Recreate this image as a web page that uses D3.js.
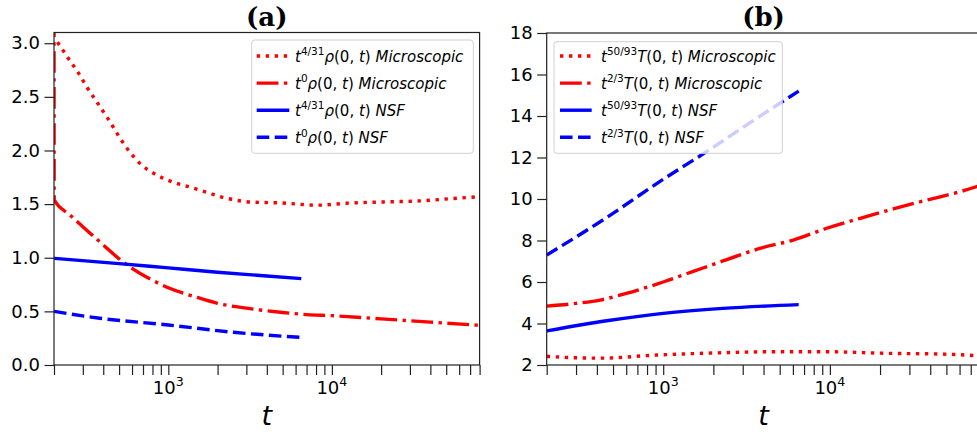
<!DOCTYPE html>
<html>
<head>
<meta charset="utf-8">
<script src="https://cdn.jsdelivr.net/npm/d3@7"></script>
<style>
  body { margin: 0; background: #fff; }
  svg { display: block; }
  text { white-space: pre; }
</style>
</head>
<body>
<svg id="fig" width="977" height="436"></svg>
<script>
// ---------- panel (a): density at the origin ----------
const rhoScaledMicroT = [210, 242, 280, 321, 370, 426, 490, 565, 670, 829, 1044, 1349, 1715, 2197, 3160, 5030, 8080, 12900, 20600, 34700, 52600, 80000];
const rhoScaledMicro  = [3.01, 2.87, 2.73, 2.58, 2.44, 2.30, 2.15, 2.01, 1.88, 1.78, 1.71, 1.66, 1.61, 1.56, 1.52, 1.51, 1.49, 1.51, 1.52, 1.53, 1.55, 1.57];

const rhoMicroT = [200, 200.5, 250, 300, 400, 500, 600, 800, 1000, 1500, 2000, 3000, 5000, 7000, 10000, 20000, 40000, 80000];
const rhoMicro  = [3.6, 1.54, 1.40, 1.29, 1.12, 0.99, 0.90, 0.79, 0.72, 0.63, 0.575, 0.53, 0.49, 0.47, 0.46, 0.43, 0.40, 0.37];

const rhoScaledNsfT = [200, 500, 1000, 2000, 4000, 6500];
const rhoScaledNsf  = [0.995, 0.945, 0.905, 0.865, 0.83, 0.805];

const rhoNsfT = [200, 380, 1000, 2500, 6500];
const rhoNsf  = [0.50, 0.436, 0.373, 0.305, 0.257];

// ---------- panel (b): temperature at the origin ----------
const tempScaledMicroT = [200, 218, 418, 914, 2280, 4580, 9130, 22900, 45800, 76000, 80000];
const tempScaledMicro  = [2.42, 2.40, 2.33, 2.48, 2.59, 2.64, 2.64, 2.56, 2.53, 2.45, 2.44];

const tempMicroT = [200, 300, 418, 600, 1000, 1500, 2000, 3000, 3800, 6030, 9570, 15200, 24000, 38100, 60300, 80000];
const tempMicro  = [4.84, 4.97, 5.13, 5.45, 6.0, 6.5, 6.85, 7.35, 7.62, 8.02, 8.59, 9.07, 9.52, 9.95, 10.35, 10.65];

const tempScaledNsfT = [200, 458, 1000, 2280, 6500];
const tempScaledNsf  = [3.64, 4.13, 4.49, 4.73, 4.91];

const tempNsfT = [200, 437, 1000, 1820, 3500, 6500];
const tempNsf  = [7.3, 9.0, 10.95, 12.28, 13.8, 15.2];

// ---------- axis ticks ----------
const xDomain = [200, 80000];
const xMajorTicks = [1000, 10000];
const xMinorTicks = [200, 300, 400, 500, 600, 700, 800, 900,
                     2000, 3000, 4000, 5000, 6000, 7000, 8000, 9000,
                     20000, 30000, 40000, 50000, 60000, 70000, 80000];
const xMajorBase = ["10", "10"];
const xMajorExp = ["3", "4"];
const yTicksA = [0, 0.5, 1.0, 1.5, 2.0, 2.5, 3.0];
const yTicksB = [2, 4, 6, 8, 10, 12, 14, 16, 18];

// ---------- legend labels: [text, style] runs ----------
const legendA = [
  [["t", "i"], ["4/31", "sup"], ["ρ", "i"], ["(0, ", "n"], ["t", "i"], [") ", "n"], ["Microscopic", "i"]],
  [["t", "i"], ["0", "sup"], ["ρ", "i"], ["(0, ", "n"], ["t", "i"], [") ", "n"], ["Microscopic", "i"]],
  [["t", "i"], ["4/31", "sup"], ["ρ", "i"], ["(0, ", "n"], ["t", "i"], [") ", "n"], ["NSF", "i"]],
  [["t", "i"], ["0", "sup"], ["ρ", "i"], ["(0, ", "n"], ["t", "i"], [") ", "n"], ["NSF", "i"]]
];
const legendB = [
  [["t", "i"], ["50/93", "sup"], ["T", "i"], ["(0, ", "n"], ["t", "i"], [") ", "n"], ["Microscopic", "i"]],
  [["t", "i"], ["2/3", "sup"], ["T", "i"], ["(0, ", "n"], ["t", "i"], [") ", "n"], ["Microscopic", "i"]],
  [["t", "i"], ["50/93", "sup"], ["T", "i"], ["(0, ", "n"], ["t", "i"], [") ", "n"], ["NSF", "i"]],
  [["t", "i"], ["2/3", "sup"], ["T", "i"], ["(0, ", "n"], ["t", "i"], [") ", "n"], ["NSF", "i"]]
];

// ---------- line styles ----------
const LW = 3.4;
const styles = {
  dotted:  { color: "#ff0000", dash: `${LW} ${LW * 1.65}` },
  dashdot: { color: "#ff0000", dash: `${LW * 6.4} ${LW * 1.6} ${LW} ${LW * 1.6}` },
  solid:   { color: "#0000ff", dash: null },
  dashed:  { color: "#0000ff", dash: `${LW * 3.7} ${LW * 1.6}` }
};

const svg = d3.select("#fig");
const FONT = "DejaVu Sans";

function richText(parent, x, y, parts, size) {
  const t = parent.append("text")
    .attr("x", x).attr("y", y)
    .attr("font-family", FONT).attr("font-size", size).attr("fill", "#000");
  const rise = size * 0.42;
  let raised = false;
  parts.forEach(([s, k]) => {
    const sp = t.append("tspan").text(s);
    if (k === "i") sp.attr("font-style", "italic");
    if (k === "sup") {
      sp.attr("font-size", size * 0.7).attr("dy", -rise);
      raised = true;
    } else if (raised) {
      sp.attr("dy", rise);
      raised = false;
    }
  });
  return t;
}

function drawPanel(cfg) {
  const { id, left, right, top, bottom, yDomain, yTicks, yFmt, series, legend, legendBox, title } = cfg;
  const x = d3.scaleLog().domain(xDomain).range([left, right]);
  const y = d3.scaleLinear().domain(yDomain).range([bottom, top]);
  const g = svg.append("g");

  const clipId = "clip-" + id;
  svg.append("clipPath").attr("id", clipId)
    .append("rect").attr("x", left).attr("y", top)
    .attr("width", right - left).attr("height", bottom - top);

  // data lines
  const line = d3.line().x(d => x(d[0])).y(d => y(d[1])).curve(d3.curveMonotoneX);
  const plot = g.append("g").attr("clip-path", `url(#${clipId})`);
  series.forEach(s => {
    const pts = s.t.map((tv, i) => [tv, s.v[i]]);
    const st = styles[s.style];
    plot.append("path")
      .attr("d", line(pts))
      .attr("fill", "none")
      .attr("stroke", st.color)
      .attr("stroke-width", LW)
      .attr("stroke-linejoin", "round")
      .attr("stroke-linecap", "butt")
      .attr("stroke-dasharray", st.dash);
  });

  // x axis ticks
  const gx = g.append("g").attr("transform", `translate(0,${bottom})`)
    .call(d3.axisBottom(x).tickValues(xMinorTicks.concat(xMajorTicks)).tickSize(10).tickFormat(""));
  gx.select(".domain").remove();
  gx.selectAll(".tick line").attr("stroke", "#222").attr("stroke-width", 1.2);

  xMajorTicks.forEach((tv, i) => {
    const t = g.append("text")
      .attr("x", x(tv)).attr("y", 394)
      .attr("text-anchor", "middle")
      .attr("font-family", FONT).attr("font-size", 18);
    t.append("tspan").text(xMajorBase[i]);
    t.append("tspan").text(xMajorExp[i]).attr("font-size", 12.6).attr("dy", -8);
  });

  // y axis
  const gy = g.append("g").attr("transform", `translate(${left},0)`)
    .call(d3.axisLeft(y).tickValues(yTicks).tickSize(9.5).tickPadding(4.5).tickFormat(yFmt));
  gy.select(".domain").remove();
  gy.selectAll(".tick line").attr("stroke", "#222").attr("stroke-width", 1.2);
  gy.selectAll(".tick text").attr("font-family", FONT).attr("font-size", 18).attr("fill", "#000");

  // frame
  g.append("rect")
    .attr("x", left).attr("y", top)
    .attr("width", right - left).attr("height", bottom - top)
    .attr("fill", "none").attr("stroke", "#222").attr("stroke-width", 1.2);

  // legend
  const lg = g.append("g");
  lg.append("rect")
    .attr("x", legendBox.x).attr("y", legendBox.y)
    .attr("width", legendBox.w).attr("height", legendBox.h)
    .attr("rx", 3)
    .attr("fill", "#fff").attr("fill-opacity", 0.8)
    .attr("stroke", "#d0d0d0").attr("stroke-width", 1);
  series.forEach((s, i) => {
    const yy = legendBox.row0 + i * legendBox.rowStep;
    const st = styles[s.style];
    lg.append("line")
      .attr("x1", legendBox.hx0).attr("x2", legendBox.hx1)
      .attr("y1", yy).attr("y2", yy)
      .attr("stroke", st.color).attr("stroke-width", LW)
      .attr("stroke-dasharray", st.dash);
    richText(lg, legendBox.tx, yy + 5.5, legend[i], 15);
  });

  // title and axis label
  const cx = (left + right) / 2;
  g.append("text").attr("x", cx).attr("y", 26)
    .attr("text-anchor", "middle")
    .attr("font-family", "DejaVu Serif").attr("font-weight", "bold").attr("font-size", 26)
    .text(title);
  g.append("text").attr("x", cx).attr("y", 425)
    .attr("text-anchor", "middle")
    .attr("font-family", FONT).attr("font-style", "italic").attr("font-size", 27)
    .text("t");
}

drawPanel({
  id: "a", left: 54, right: 479.6, top: 32.5, bottom: 365,
  yDomain: [0, 3.1], yTicks: yTicksA, yFmt: d3.format(".1f"),
  series: [
    { t: rhoScaledMicroT, v: rhoScaledMicro, style: "dotted" },
    { t: rhoMicroT, v: rhoMicro, style: "dashdot" },
    { t: rhoScaledNsfT, v: rhoScaledNsf, style: "solid" },
    { t: rhoNsfT, v: rhoNsf, style: "dashed" }
  ],
  legend: legendA,
  legendBox: { x: 251.7, y: 40, w: 221.6, h: 113.3, row0: 56, rowStep: 27.1, hx0: 256.7, hx1: 289.3, tx: 295 },
  title: "(a)"
});

drawPanel({
  id: "b", left: 546.7, right: 980.4, top: 33, bottom: 365,
  yDomain: [2, 18], yTicks: yTicksB, yFmt: d3.format("d"),
  series: [
    { t: tempScaledMicroT, v: tempScaledMicro, style: "dotted" },
    { t: tempMicroT, v: tempMicro, style: "dashdot" },
    { t: tempScaledNsfT, v: tempScaledNsf, style: "solid" },
    { t: tempNsfT, v: tempNsf, style: "dashed" }
  ],
  legend: legendB,
  legendBox: { x: 554, y: 41.7, w: 228.3, h: 111.6, row0: 56, rowStep: 27.1, hx0: 560, hx1: 591.7, tx: 601 },
  title: "(b)"
});
</script>
</body>
</html>
